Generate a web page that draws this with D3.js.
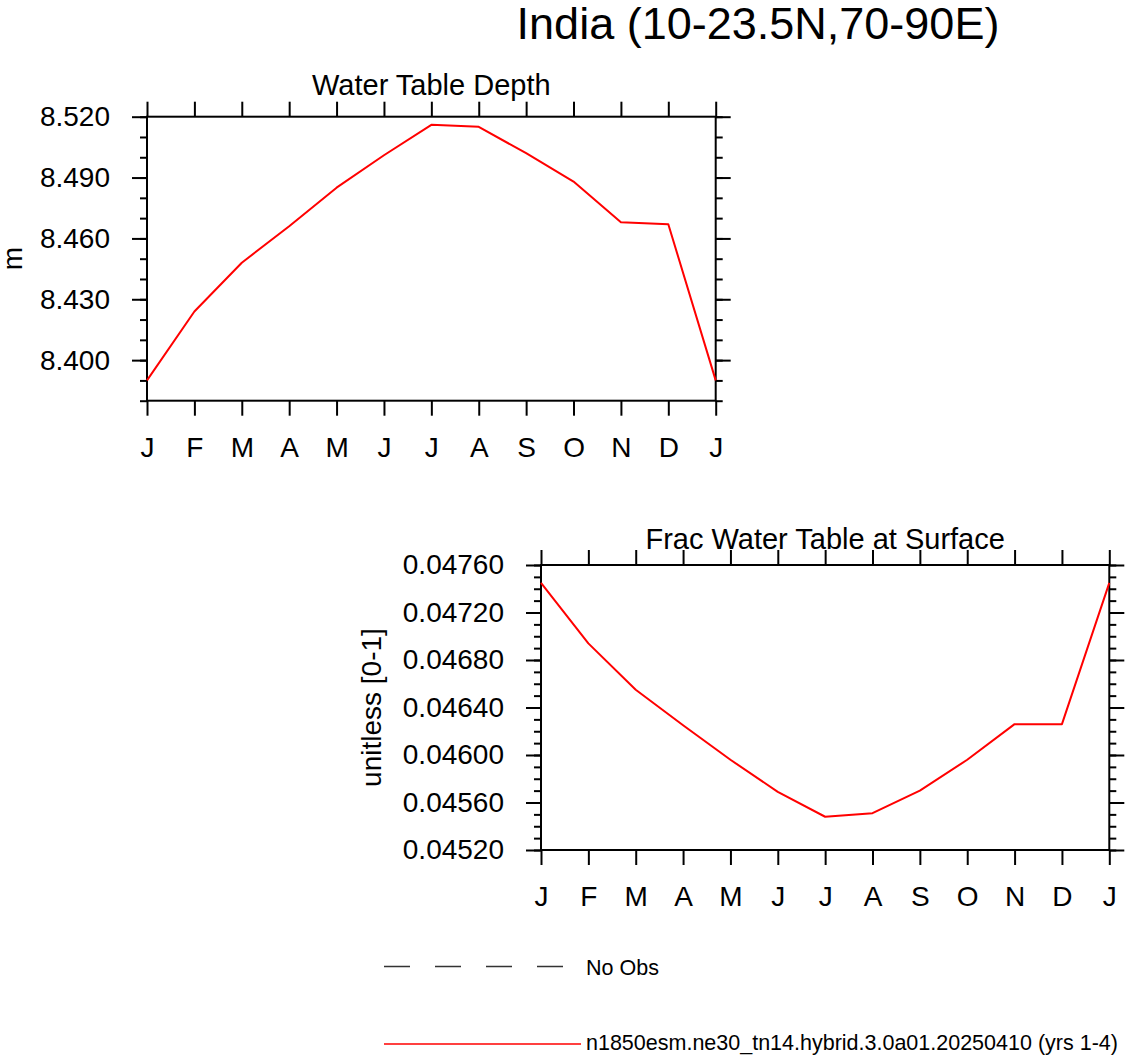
<!DOCTYPE html>
<html>
<head>
<meta charset="utf-8">
<script src="https://cdn.jsdelivr.net/npm/d3@7"></script>
<style>
  body { margin: 0; background: #fff; }
  svg { display: block; font-family: "Liberation Sans", Arial, Helvetica, sans-serif; }
</style>
</head>
<body>
<svg id="chart" width="1128" height="1055"></svg>
<script>
// month labels (the last J closes the annual cycle)
var months = ["J", "F", "M", "A", "M", "J", "J", "A", "S", "O", "N", "D", "J"];

// Water Table Depth (m)
var wtdValues = [8.390, 8.424, 8.448, 8.466, 8.485, 8.501, 8.516, 8.515, 8.502, 8.488, 8.468, 8.467, 8.390];
var wtdTicks = [8.400, 8.430, 8.460, 8.490, 8.520];

// Frac Water Table at Surface (unitless)
var fracValues = [0.04745, 0.04694, 0.04655, 0.04625, 0.04596, 0.04569, 0.04548, 0.04551, 0.04570, 0.04596, 0.04626, 0.04626, 0.04745];
var fracTicks = [0.04520, 0.04560, 0.04600, 0.04640, 0.04680, 0.04720, 0.04760];

var legendLabels = ["No Obs", "n1850esm.ne30_tn14.hybrid.3.0a01.20250410 (yrs 1-4)"];

var svg = d3.select("#chart");

svg.append("text")
  .attr("x", 758)
  .attr("y", 39)
  .attr("text-anchor", "middle")
  .style("font-size", "45px")
  .text("India (10-23.5N,70-90E)");

function drawPanel(cfg) {
  var width = cfg.width, height = cfg.height;
  var g = svg.append("g")
    .attr("transform", "translate(" + cfg.left + "," + cfg.top + ")");

  var x = d3.scaleLinear().domain([0, months.length - 1]).range([0, width]);
  var y = d3.scaleLinear().domain(cfg.domain).range([height, 0]);

  var minorTicks = d3.range(cfg.domain[0], cfg.domain[1] + cfg.minorStep / 2, cfg.minorStep);

  function style(sel) {
    sel.select(".domain").remove();
    sel.selectAll("line").attr("stroke", "#000").attr("stroke-width", 2);
    sel.selectAll("text")
      .attr("fill", "#000")
      .style("font-size", "28px")
      .style("font-family", "'Liberation Sans', Arial, sans-serif");
  }

  // minor y ticks, both sides
  g.append("g").call(d3.axisLeft(y).tickValues(minorTicks).tickSize(7).tickFormat("")).call(style);
  g.append("g").attr("transform", "translate(" + width + ",0)")
    .call(d3.axisRight(y).tickValues(minorTicks).tickSize(7).tickFormat("")).call(style);

  // major y ticks
  g.append("g")
    .call(d3.axisLeft(y).tickValues(cfg.ticks).tickSize(15).tickPadding(22).tickFormat(d3.format(cfg.fmt)))
    .call(style);
  g.append("g").attr("transform", "translate(" + width + ",0)")
    .call(d3.axisRight(y).tickValues(cfg.ticks).tickSize(15).tickFormat(""))
    .call(style);

  // x ticks, top and bottom
  g.append("g").attr("transform", "translate(0," + height + ")")
    .call(d3.axisBottom(x).tickValues(d3.range(months.length)).tickSize(15).tickPadding(21)
      .tickFormat(function(i) { return months[i]; }))
    .call(style);
  g.append("g")
    .call(d3.axisTop(x).tickValues(d3.range(months.length)).tickSize(15).tickFormat(""))
    .call(style);

  g.append("rect")
    .attr("width", width)
    .attr("height", height)
    .attr("fill", "none")
    .attr("stroke", "#000")
    .attr("stroke-width", 2);

  var line = d3.line()
    .x(function(d, i) { return x(i); })
    .y(function(d) { return y(d); });

  g.append("path")
    .datum(cfg.values)
    .attr("fill", "none")
    .attr("stroke", "#ff0000")
    .attr("stroke-width", 2)
    .attr("stroke-linejoin", "round")
    .attr("d", line);

  g.append("text")
    .attr("x", width / 2)
    .attr("y", cfg.titleY)
    .attr("text-anchor", "middle")
    .style("font-size", "29px")
    .text(cfg.title);

  g.append("text")
    .attr("transform", "rotate(-90)")
    .attr("x", -height / 2)
    .attr("y", cfg.unitX)
    .attr("dy", "0.35em")
    .attr("text-anchor", "middle")
    .style("font-size", "28px")
    .text(cfg.units);
}

drawPanel({
  left: 147, top: 116.7, width: 568.7, height: 284,
  domain: [8.38, 8.52], minorStep: 0.01, ticks: wtdTicks, fmt: ".3f",
  values: wtdValues, title: "Water Table Depth", titleY: -22,
  units: "m", unitX: -135
});

drawPanel({
  left: 541, top: 565, width: 568.3, height: 285,
  domain: [0.0452, 0.0476], minorStep: 0.0001, ticks: fracTicks, fmt: ".5f",
  values: fracValues, title: "Frac Water Table at Surface", titleY: -16,
  units: "unitless [0-1]", unitX: -170
});

// legend
var legend = svg.append("g");
legend.append("line")
  .attr("x1", 384).attr("x2", 563)
  .attr("y1", 966.5).attr("y2", 966.5)
  .attr("stroke", "#333")
  .attr("stroke-width", 1.3)
  .attr("stroke-dasharray", "26,25");
legend.append("line")
  .attr("x1", 384).attr("x2", 581)
  .attr("y1", 1044).attr("y2", 1044)
  .attr("stroke", "#ff0000")
  .attr("stroke-width", 1.3);
legend.selectAll("text.lg")
  .data(legendLabels)
  .enter().append("text")
  .attr("class", "lg")
  .attr("x", 586)
  .attr("y", function(d, i) { return i === 0 ? 975 : 1050; })
  .style("font-size", "21.5px")
  .text(function(d) { return d; });
</script>
</body>
</html>
